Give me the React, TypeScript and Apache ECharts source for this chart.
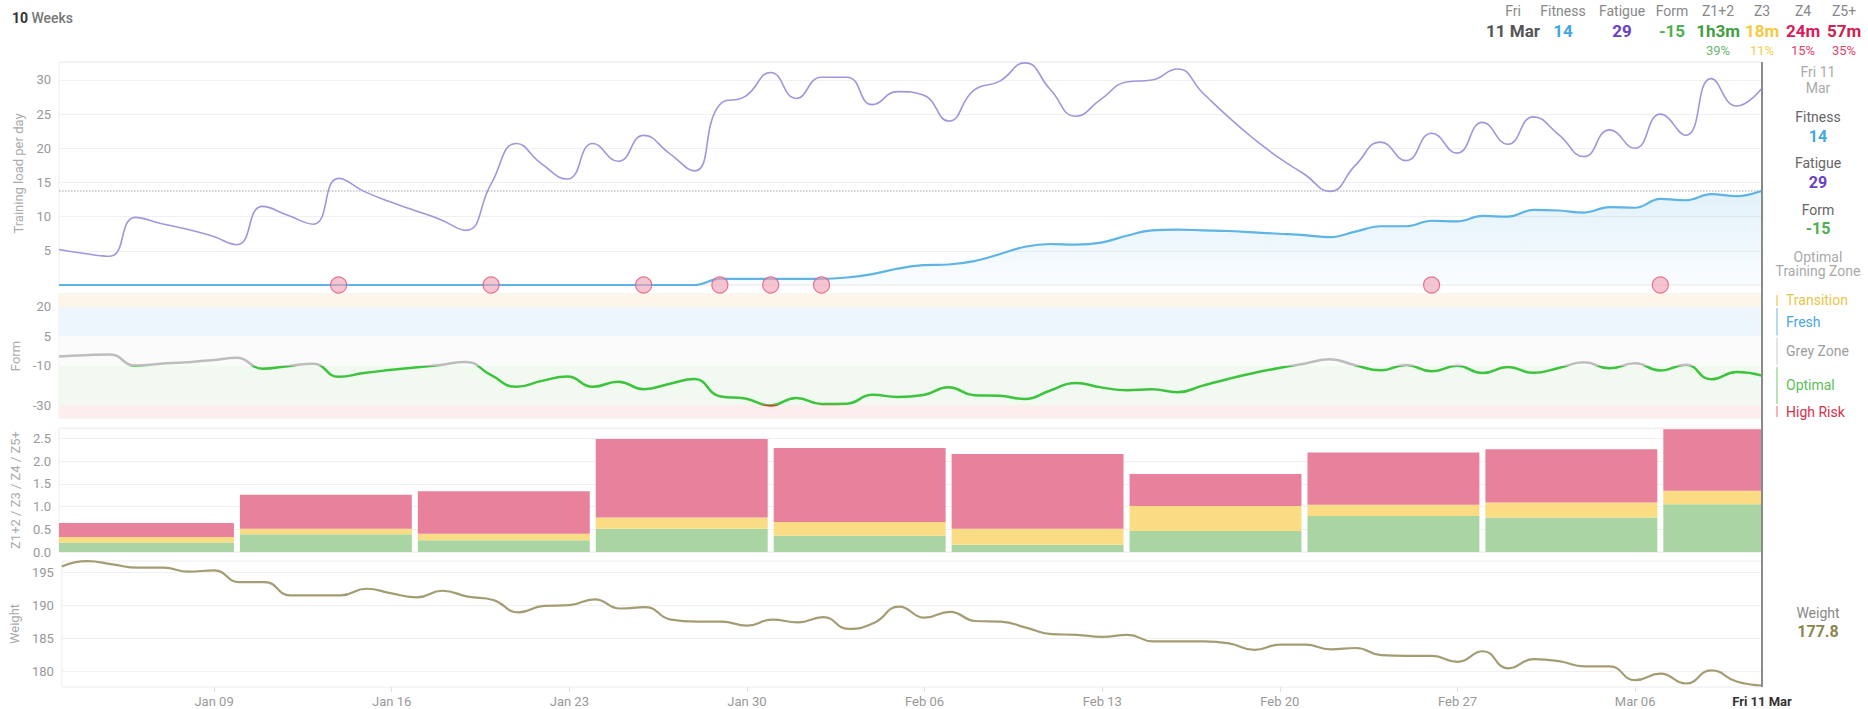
import React, { useEffect, useRef } from 'react';
import * as echarts from 'echarts';

const FONT = 'Roboto, "Noto Sans", sans-serif';

// Day index 0 = Mon 03 Jan 2022, index 67 = Fri 11 Mar 2022
const lastDay = 67;
const xTickDays = [6, 13, 20, 27, 34, 41, 48, 55, 62];
const xTickLabels = ['Jan 09', 'Jan 16', 'Jan 23', 'Jan 30', 'Feb 06', 'Feb 13', 'Feb 20', 'Feb 27', 'Mar 06'];
const lastDayLabel = 'Fri 11 Mar';
const lastDayHeader = ['Fri', '11 Mar'];
const lastDayShort = ['Fri 11', 'Mar'];

// Daily training load
const fatigue = [
  5.2, 4.6, 4.2, 9.9, 9.0, 8.2, 7.2, 5.9, 11.5, 10.2,
  8.9, 15.6, 13.7, 12.2, 10.9, 9.6, 8.0, 14.8, 20.7, 17.7,
  15.5, 20.7, 18.1, 21.9, 19.3, 16.7, 26.4, 27.6, 31.1, 27.3,
  30.4, 30.4, 26.4, 28.3, 27.8, 24.0, 28.5, 29.8, 32.5, 28.6,
  24.7, 27.2, 29.7, 30.0, 31.6, 28.1, 24.6, 21.4, 18.6, 16.2,
  13.7, 17.5, 20.9, 18.2, 22.2, 19.3, 23.8, 20.6, 24.6, 22.0,
  18.8, 22.7, 20.0, 25.0, 21.9, 30.2, 26.2, 28.8,
];
const fitness = [
  0, 0, 0, 0, 0, 0, 0, 0, 0, 0,
  0, 0, 0, 0, 0, 0, 0, 0, 0, 0,
  0, 0, 0, 0, 0, 0, 0.9, 0.9, 0.9, 0.9,
  0.9, 1.1, 1.6, 2.4, 2.9, 3.0, 3.5, 4.5, 5.6, 6.0,
  5.9, 6.2, 7.2, 8.0, 8.1, 8.0, 7.9, 7.7, 7.5, 7.3,
  7.0, 7.8, 8.6, 8.6, 9.4, 9.3, 10.1, 10.0, 11.0, 10.9,
  10.6, 11.4, 11.3, 12.6, 12.4, 13.3, 13.0, 13.8,
];
const weight = [
  195.9, 196.7, 196.2, 195.7, 195.7, 195.1, 195.3, 193.5, 193.5, 191.5,
  191.5, 191.5, 192.5, 191.8, 191.2, 192.2, 191.3, 190.8, 188.9, 189.9,
  190.0, 190.9, 189.5, 189.7, 187.8, 187.5, 187.5, 186.9, 187.8, 187.4,
  188.2, 186.4, 187.3, 189.8, 188.1, 189.0, 187.6, 187.5, 186.6, 185.6,
  185.5, 185.2, 185.5, 184.5, 184.5, 184.5, 184.2, 183.2, 184.0, 184.0,
  183.3, 183.5, 182.4, 182.3, 182.3, 181.4, 183.0, 180.4, 181.8, 181.5,
  180.7, 180.7, 178.6, 179.6, 178.1, 180.1, 178.4, 177.8,
];
// Days carrying a note marker
const noteDays = [11, 17, 23, 26, 28, 30, 54, 63];

// Weekly time in zones (hours), weeks starting Monday
const weekStartDays = [0, 7, 14, 21, 28, 35, 42, 49, 56, 63];
const weekZ12 = [0.21, 0.39, 0.26, 0.51, 0.36, 0.16, 0.46, 0.79, 0.76];
const weekZ3 = [0.12, 0.12, 0.14, 0.25, 0.3, 0.35, 0.55, 0.25, 0.33];
const weekZ45 = [0.31, 0.75, 0.94, 1.73, 1.63, 1.65, 0.71, 1.15, 1.17];
// Current week, minutes per zone
const zoneNames = ['Z1+2', 'Z3', 'Z4', 'Z5+'];
const currentWeekMinutes = [63, 18, 24, 57];

// Weight grid lines
const weightTicks = [180, 185, 190, 195];

// Form zones, top to bottom
const formZoneNames = ['Transition', 'Fresh', 'Grey Zone', 'Optimal', 'High Risk'];
const formZoneBounds = [20, 5, -10, -30];
const formZoneText = ['#e8c547', '#4aa8dc', '#9e9e9e', '#5cbf5c', '#d9304a'];
const formZoneLine = ['#f3dc95', '#b7dcf2', '#e4e4e4', '#b9e2b9', '#f2b4bd'];
const formZoneFill = ['#fdf6e8', '#edf6fc', '#fbfbfb', '#f1f9f0', '#fdeeee'];
const formLineColors = ['#f0c040', '#4fb0e0', '#bdbdbd', '#3dc43d', '#e53935'];

const C = {
  fitness: '#3fa9e0',
  fitnessLine: '#5db4e5',
  fatigue: '#6a40c8',
  fatigueLine: '#a295dd',
  form: '#4cb050',
  z12: '#a9d5a3',
  z3: '#fadc84',
  z45: '#e8829c',
  weight: '#a49d74',
  weightText: '#8c8750',
};

// Layout
const GL = 59;
const GR = 106;
const grids = [
  { top: 62, height: 223 },
  { top: 294, height: 124 },
  { top: 428, height: 124 },
  { top: 561, height: 126 },
];
const loadMax = 32.63;
const formMin = -36.63;
const formMax = 26.63;
const zoneMax = 2.73;
const weightMin = 177.57;
const weightMax = 196.72;

const days = fatigue.map((_, i) => i);
const z12 = [...weekZ12, currentWeekMinutes[0] / 60];
const z3 = [...weekZ3, currentWeekMinutes[1] / 60];
const z45 = [...weekZ45, (currentWeekMinutes[2] + currentWeekMinutes[3]) / 60];

const fmtMinutes = (m: number) => (m >= 60 ? `${Math.floor(m / 60)}h${m % 60}m` : `${m}m`);

function barSeries(name: string, color: string, bases: number[], tops: number[]) {
  return {
    type: 'custom',
    name,
    xAxisIndex: 2,
    yAxisIndex: 2,
    encode: { x: [0, 1], y: [2, 3] },
    data: weekStartDays.map((s, i) => [s, Math.min(s + 7, lastDay), bases[i], tops[i]]),
    renderItem: (_params: any, api: any) => {
      const s = api.value(0);
      const e = api.value(1);
      const p0 = api.coord([s, api.value(2)]);
      const p1 = api.coord([e, api.value(3)]);
      const gl = s === 0 ? 0 : 3;
      const gr = e === lastDay ? 0 : 3;
      return {
        type: 'rect',
        shape: { x: p0[0] + gl, y: p1[1], width: p1[0] - p0[0] - gl - gr, height: p0[1] - p1[1] },
        style: { fill: color },
      };
    },
  };
}

function yName(name: string) {
  return {
    name,
    nameLocation: 'middle',
    nameGap: 34,
    nameTextStyle: { color: '#aaa', fontSize: 13, fontFamily: FONT },
  };
}

const axisLabelBase = { color: '#999', fontSize: 13, fontFamily: FONT, margin: 8 };

function buildOption() {
  const stack1 = z12.map((v, i) => v + z3[i]);
  const stack2 = stack1.map((v, i) => v + z45[i]);
  const lastFitness = fitness[lastDay];

  const xAxes = grids.map((_, i) => ({
    type: 'value',
    gridIndex: i,
    min: 0,
    max: lastDay,
    splitLine: { show: false },
    axisLine: { show: false },
    axisTick: i === 3 ? { show: true, customValues: xTickDays, length: 5, lineStyle: { color: '#e2e2e2' } } : { show: false },
    axisLabel:
      i === 3
        ? {
            ...axisLabelBase,
            customValues: [...xTickDays, lastDay],
            formatter: (v: number) => {
              if (v === lastDay) return `{b|${lastDayLabel}}`;
              const k = xTickDays.indexOf(v);
              return k >= 0 ? xTickLabels[k] : '';
            },
            rich: { b: { color: '#333', fontWeight: 'bold', fontSize: 13, fontFamily: FONT } },
          }
        : { show: false },
  }));

  const yAxes = [
    {
      type: 'value',
      gridIndex: 0,
      min: 0,
      max: loadMax,
      interval: 5,
      ...yName('Training load per day'),
      axisLine: { show: false },
      axisTick: { show: false },
      axisLabel: { ...axisLabelBase, showMaxLabel: false, formatter: (v: number) => (v > 0 && v % 5 === 0 ? String(v) : '') },
      splitLine: { lineStyle: { color: '#f0f0f0' } },
    },
    {
      type: 'value',
      gridIndex: 1,
      min: formMin,
      max: formMax,
      ...yName('Form'),
      axisLine: { show: false },
      axisTick: { show: false },
      axisLabel: { ...axisLabelBase, customValues: formZoneBounds },
      splitLine: { show: false },
    },
    {
      type: 'value',
      gridIndex: 2,
      min: 0,
      max: zoneMax,
      interval: 0.5,
      ...yName('Z1+2 / Z3 / Z4 / Z5+'),
      axisLine: { show: false },
      axisTick: { show: false },
      axisLabel: {
        ...axisLabelBase,
        showMaxLabel: false,
        formatter: (v: number) => (Math.abs(v * 2 - Math.round(v * 2)) < 1e-6 ? v.toFixed(1) : ''),
      },
      splitLine: { lineStyle: { color: '#f0f0f0' } },
    },
    {
      type: 'value',
      gridIndex: 3,
      min: weightMin,
      max: weightMax,
      ...yName('Weight'),
      axisLine: { show: false },
      axisTick: { show: false },
      axisLabel: { ...axisLabelBase, customValues: weightTicks },
      splitLine: { show: false },
    },
  ];

  const bandEdges = [formMax, ...formZoneBounds, formMin];

  return {
    animation: false,
    backgroundColor: '#fff',
    textStyle: { fontFamily: FONT },
    grid: grids.map((g) => ({
      left: GL,
      right: GR,
      top: g.top,
      height: g.height,
      show: true,
      borderColor: '#ececec',
      borderWidth: 1,
      backgroundColor: 'transparent',
      containLabel: false,
    })),
    xAxis: xAxes,
    yAxis: yAxes,
    visualMap: [
      {
        type: 'piecewise',
        show: false,
        seriesIndex: 3,
        dimension: 1,
        pieces: [
          { gte: 20, color: formLineColors[0] },
          { gte: 5, lt: 20, color: formLineColors[1] },
          { gte: -10, lt: 5, color: formLineColors[2] },
          { gte: -30, lt: -10, color: formLineColors[3] },
          { lt: -30, color: formLineColors[4] },
        ],
      },
    ],
    series: [
      {
        type: 'line',
        name: 'Fatigue',
        xAxisIndex: 0,
        yAxisIndex: 0,
        data: days.map((d) => [d, fatigue[d]]),
        smooth: 0.5,
        showSymbol: false,
        lineStyle: { color: C.fatigueLine, width: 1.6 },
        itemStyle: { color: C.fatigueLine },
        z: 3,
      },
      {
        type: 'line',
        name: 'Fitness',
        xAxisIndex: 0,
        yAxisIndex: 0,
        data: days.map((d) => [d, fitness[d]]),
        smooth: 0.4,
        showSymbol: false,
        clip: false,
        lineStyle: { color: C.fitnessLine, width: 2.2 },
        itemStyle: { color: C.fitnessLine },
        areaStyle: {
          color: new echarts.graphic.LinearGradient(0, 0, 0, 1, [
            { offset: 0, color: 'rgba(93,180,229,0.26)' },
            { offset: 1, color: 'rgba(93,180,229,0.05)' },
          ]),
        },
        markLine: {
          silent: true,
          z: 1,
          symbol: ['none', 'none'],
          label: { show: false },
          lineStyle: { color: '#c4c4c4', type: 'dotted', width: 1.5 },
          data: [{ yAxis: lastFitness }],
        },
        z: 2,
      },
      {
        type: 'scatter',
        name: 'Notes',
        xAxisIndex: 0,
        yAxisIndex: 0,
        data: noteDays.map((d) => [d, 0]),
        symbolSize: 16,
        clip: false,
        itemStyle: { color: 'rgba(242,164,184,0.8)', borderColor: '#e0587a', borderWidth: 1.2 },
        z: 5,
      },
      {
        type: 'line',
        name: 'Form',
        xAxisIndex: 1,
        yAxisIndex: 1,
        data: days.map((d) => [d, Math.round((fitness[d] - fatigue[d]) * 10) / 10]),
        smooth: 0.5,
        showSymbol: false,
        lineStyle: { width: 2.5 },
        markArea: {
          silent: true,
          z: 1,
          data: formZoneNames.map((_, i) => [
            { yAxis: bandEdges[i], itemStyle: { color: formZoneFill[i] } },
            { yAxis: bandEdges[i + 1] },
          ]),
        },
        z: 3,
      },
      barSeries('Z1+2', C.z12, z12.map(() => 0), z12),
      barSeries('Z3', C.z3, z12, stack1),
      barSeries('Z4 / Z5+', C.z45, stack1, stack2),
      {
        type: 'line',
        name: 'Weight',
        xAxisIndex: 3,
        yAxisIndex: 3,
        data: days.map((d) => [d, weight[d]]),
        smooth: 0.5,
        showSymbol: false,
        lineStyle: { color: C.weight, width: 2.2 },
        itemStyle: { color: C.weight },
        markLine: {
          silent: true,
          z: 1,
          symbol: ['none', 'none'],
          label: { show: false },
          lineStyle: { color: '#f0f0f0', type: 'solid', width: 1 },
          data: weightTicks.map((v) => ({ yAxis: v })),
        },
        z: 3,
      },
    ],
  };
}

function txt(x: number, y: number, text: string, color: string, size: number, weight: any = 'normal', align: any = 'center') {
  return {
    type: 'text',
    x,
    y,
    silent: true,
    style: { text, fill: color, fontSize: size, fontWeight: weight, fontFamily: FONT, align, verticalAlign: 'middle' },
  };
}

function buildGraphics(chart: any) {
  const g: any[] = [];
  const xEnd = chart.convertToPixel({ xAxisIndex: 0 }, lastDay);
  const yTop = chart.convertToPixel({ yAxisIndex: 0 }, loadMax);
  const yBottom = chart.convertToPixel({ yAxisIndex: 3 }, weightMin);

  // current-day cursor through all panels
  g.push({
    type: 'line',
    silent: true,
    shape: { x1: xEnd, y1: yTop, x2: xEnd, y2: yBottom },
    style: { stroke: '#8a8a8a', lineWidth: 2 },
    z: 10,
  });

  // title
  g.push({
    type: 'text',
    x: 12,
    y: 18,
    style: {
      text: '{a|10} {b|Weeks}',
      verticalAlign: 'middle',
      rich: {
        a: { fontSize: 14, fontWeight: 'bold', fill: '#333', fontFamily: FONT },
        b: { fontSize: 14, fontWeight: 500, fill: '#777', fontFamily: FONT },
      },
    },
  });

  // header summary for the selected day
  const fit = Math.round(fitness[lastDay]);
  const fat = Math.round(fatigue[lastDay]);
  const frm = Math.round(fitness[lastDay] - fatigue[lastDay]);
  const total = currentWeekMinutes.reduce((a, b) => a + b, 0);
  const r1 = 11;
  const r2 = 31;
  const r3 = 50;
  const cols = [
    { x: 1513, t: lastDayHeader[0], v: lastDayHeader[1], c: '#555' },
    { x: 1563, t: 'Fitness', v: String(fit), c: C.fitness },
    { x: 1622, t: 'Fatigue', v: String(fat), c: C.fatigue },
    { x: 1672, t: 'Form', v: String(frm), c: C.form },
  ];
  cols.forEach((c) => {
    g.push(txt(c.x, r1, c.t, '#888', 14));
    g.push(txt(c.x, r2, c.v, c.c, 17, 'bold'));
  });
  const zoneX = [1718, 1762, 1803, 1844];
  const zoneVal = ['#3f9e3f', '#f5c842', '#d81b5a', '#d0204e'];
  const zonePct = ['#6ab86a', '#f0cf4a', '#e2456c', '#e2456c'];
  zoneNames.forEach((n, i) => {
    g.push(txt(zoneX[i], r1, n, '#888', 14));
    g.push(txt(zoneX[i], r2, fmtMinutes(currentWeekMinutes[i]), zoneVal[i], 17, 'bold'));
    g.push(txt(zoneX[i], r3, `${Math.round((currentWeekMinutes[i] / total) * 100)}%`, zonePct[i], 13));
  });

  // right-hand readout beside the load panel
  const rx = 1818;
  g.push(txt(rx, 72, lastDayShort[0], '#aaa', 14));
  g.push(txt(rx, 88, lastDayShort[1], '#aaa', 14));
  g.push(txt(rx, 117, 'Fitness', '#666', 14));
  g.push(txt(rx, 136, String(fit), C.fitness, 16, 'bold'));
  g.push(txt(rx, 163, 'Fatigue', '#666', 14));
  g.push(txt(rx, 182, String(fat), C.fatigue, 16, 'bold'));
  g.push(txt(rx, 210, 'Form', '#666', 14));
  g.push(txt(rx, 228, String(frm), C.form, 16, 'bold'));
  const zoneIdx = frm >= 20 ? 0 : frm >= 5 ? 1 : frm >= -10 ? 2 : frm >= -30 ? 3 : 4;
  g.push(txt(rx, 257, formZoneNames[zoneIdx], '#aaa', 14));
  g.push(txt(rx, 271, 'Training Zone', '#aaa', 14));

  // form zone legend
  const edges = [formMax, ...formZoneBounds, formMin].map((v) => chart.convertToPixel({ yAxisIndex: 1 }, v));
  formZoneNames.forEach((n, i) => {
    g.push({
      type: 'line',
      silent: true,
      shape: { x1: 1777, y1: edges[i] + 1, x2: 1777, y2: edges[i + 1] - 1 },
      style: { stroke: formZoneLine[i], lineWidth: 2 },
    });
    g.push(txt(1786, (edges[i] + edges[i + 1]) / 2, n, formZoneText[i], 14, 'normal', 'left'));
  });

  // weight readout
  g.push(txt(rx, 613, 'Weight', '#888', 14));
  g.push(txt(rx, 631, weight[lastDay].toFixed(1), C.weightText, 16, 'bold'));

  return g;
}

export default function App() {
  const ref = useRef<HTMLDivElement>(null);
  useEffect(() => {
    const el = ref.current;
    if (!el) return;
    const chart = echarts.init(el, undefined, { renderer: 'svg' });
    chart.setOption(buildOption() as any);
    chart.setOption({ graphic: buildGraphics(chart) } as any);
    return () => chart.dispose();
  }, []);
  return (
    <div
      ref={ref}
      style={{ position: 'fixed', left: 0, top: 0, width: 1868, height: 709, background: '#fff' }}
    />
  );
}
